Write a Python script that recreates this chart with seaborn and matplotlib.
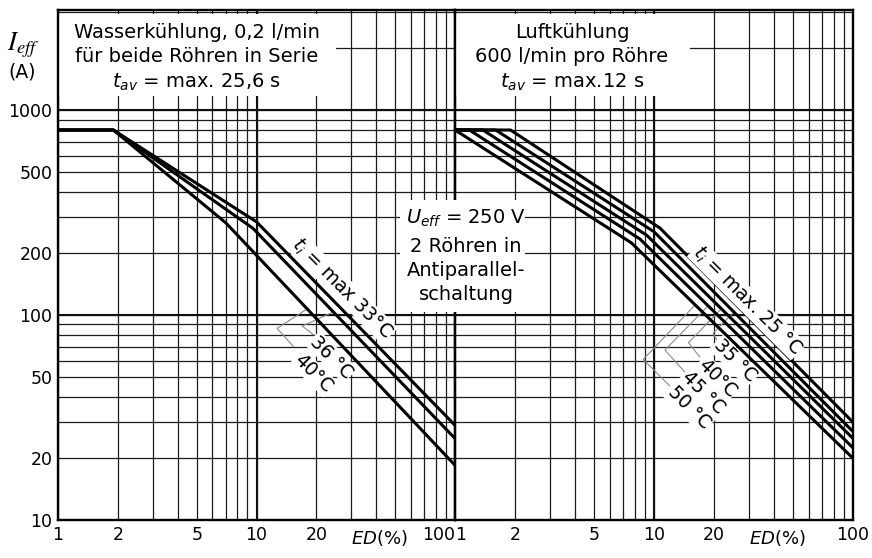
import numpy as np
import pandas as pd
import matplotlib
matplotlib.use('Agg')
import matplotlib.pyplot as plt
import matplotlib.ticker as mticker
from matplotlib.patches import Rectangle
import seaborn as sns

# Wasserkühlung (left panel): ED in %, I_eff in A, one curve per t_i
w33_ed = [1, 1.9, 10, 100]
w33_i = [800, 800, 285, 29]
w36_ed = [1, 1.9, 9.6, 100]
w36_i = [800, 800, 265, 25]
w40_ed = [1, 1.9, 7.0, 100]
w40_i = [800, 800, 282, 18.5]

# Luftkühlung (right panel)
a25_ed = [1, 1.9, 10.7, 100]
a25_i = [800, 800, 266, 30]
a35_ed = [1, 1.6, 10, 100]
a35_i = [800, 800, 255, 27]
a40_ed = [1, 1.38, 9.2, 100]
a40_i = [800, 800, 245, 25]
a45_ed = [1, 1.18, 8.5, 100]
a45_i = [800, 800, 235, 22.5]
a50_ed = [1, 7.7, 100]
a50_i = [800, 225, 20]

x_ticks = [1, 2, 5, 10, 20, 100]
x_labels = ['1', '2', '5', '10', '20', '100']
y_ticks = [10, 20, 50, 100, 200, 500, 1000]
y_labels = ['10', '20', '50', '100', '200', '500', '1000']

water = pd.concat([
    pd.DataFrame({'ED': w33_ed, 'I': w33_i, 'ti': '33'}),
    pd.DataFrame({'ED': w36_ed, 'I': w36_i, 'ti': '36'}),
    pd.DataFrame({'ED': w40_ed, 'I': w40_i, 'ti': '40'}),
])
air = pd.concat([
    pd.DataFrame({'ED': a25_ed, 'I': a25_i, 'ti': '25'}),
    pd.DataFrame({'ED': a35_ed, 'I': a35_i, 'ti': '35'}),
    pd.DataFrame({'ED': a40_ed, 'I': a40_i, 'ti': '40'}),
    pd.DataFrame({'ED': a45_ed, 'I': a45_i, 'ti': '45'}),
    pd.DataFrame({'ED': a50_ed, 'I': a50_i, 'ti': '50'}),
])

sns.set_style('white')
plt.rcParams['font.family'] = ['DejaVu Sans']
plt.rcParams['mathtext.fontset'] = 'dejavusans'
plt.rcParams['text.color'] = 'black'
plt.rcParams['xtick.color'] = 'black'
plt.rcParams['ytick.color'] = 'black'

W, H = 872, 558
fig = plt.figure(figsize=(W / 100, H / 100), dpi=100)
ax1 = fig.add_axes([58 / W, 38 / H, 397 / W, 510 / H])
ax2 = fig.add_axes([455 / W, 38 / H, 398 / W, 510 / H])


def fx(px):
    return px / W


def fy(py):
    return 1 - py / H


def curve_at(ed, cur, x):
    return 10 ** np.interp(np.log10(x), np.log10(ed), np.log10(cur))


for ax in (ax1, ax2):
    ax.set_xscale('log')
    ax.set_yscale('log')
    ax.set_xlim(1, 100)
    ax.set_ylim(10, 3080)
    ax.set_xticks(x_ticks, x_labels)
    ax.set_yticks(y_ticks, y_labels)
    ax.xaxis.set_minor_locator(mticker.LogLocator(subs=np.arange(2, 10)))
    ax.yaxis.set_minor_locator(mticker.LogLocator(subs=np.arange(2, 10)))
    ax.xaxis.set_minor_formatter(mticker.NullFormatter())
    ax.yaxis.set_minor_formatter(mticker.NullFormatter())
    ax.grid(which='both', color='#1c1c1c', lw=0.9)
    ax.axvline(10, color='#111', lw=1.5, zorder=1.6)
    for v in (100, 1000):
        ax.axhline(v, color='#111', lw=1.5, zorder=1.6)
    ax.tick_params(which='both', length=0, labelsize=12.5, pad=4, colors='black')
    for s in ax.spines.values():
        s.set_linewidth(1.7)
        s.set_color('black')

ax2.tick_params(labelleft=False)
ax1.get_xticklabels()[-1].set_ha('right')
ax2.get_xticklabels()[0].set_ha('left')

sns.lineplot(data=water, x='ED', y='I', units='ti', estimator=None, sort=False,
             color='black', lw=2.2, ax=ax1, legend=False, zorder=3)
sns.lineplot(data=air, x='ED', y='I', units='ti', estimator=None, sort=False,
             color='black', lw=2.2, ax=ax2, legend=False, zorder=3)
for ax in (ax1, ax2):
    ax.set_xlabel('')
    ax.set_ylabel('')
    ax.text(0.809, -0.035, r'$ED$(%)', transform=ax.transAxes, ha='center',
            va='center', fontsize=13)

# white boxes behind the headings
ax1.add_patch(Rectangle((0, 0.831), 0.70, 0.161, transform=ax1.transAxes,
                        fc='white', ec='none', zorder=2))
ax2.add_patch(Rectangle((0, 0.831), 0.59, 0.161, transform=ax2.transAxes,
                        fc='white', ec='none', zorder=2))

for txt, py in [('Wasserkühlung, 0,2 l/min', 32), ('für beide Röhren in Serie', 57),
                (r'$t_{av}$ = max. 25,6 s', 82)]:
    fig.text(fx(197), fy(py), txt, ha='center', va='center', fontsize=14, zorder=4)
for txt, py in [('Luftkühlung', 32), ('600 l/min pro Röhre', 57),
                (r'$t_{av}$ = max.12 s', 82)]:
    fig.text(fx(572), fy(py), txt, ha='center', va='center', fontsize=14, zorder=4)

fig.add_artist(Rectangle((fx(400), fy(312)), (525 - 400) / W, (312 - 200) / H,
                         transform=fig.transFigure, fc='white', ec='none', zorder=1))
for txt, py in [(r'$U_{eff}$ = 250 V', 218), ('2 Röhren in', 246),
                ('Antiparallel-', 270), ('schaltung', 294)]:
    fig.text(fx(466), fy(py), txt, ha='center', va='center', fontsize=14, zorder=4)

fig.text(fx(23), fy(45), r'$I_{eff}$', ha='center', va='center', fontsize=19,
         math_fontfamily='stix')
fig.text(fx(22), fy(72), '(A)', ha='center', va='center', fontsize=13.5)

# curve labels
lab_kw = dict(rotation=-45, rotation_mode='anchor', ha='center', va='center',
              fontsize=13.5, zorder=4,
              bbox=dict(boxstyle='square,pad=0.05', fc='white', ec='none'))
ax1.text(27, 135, r'$t_i$ = max 33°C', **lab_kw)
ax1.text(23.9, 62.4, '36 °C', **lab_kw)
ax1.text(19.4, 52.1, '40°C', **lab_kw)
ax2.text(29.3, 118, r'$t_i$ = max. 25 °C', **lab_kw)
ax2.text(25.5, 59.7, '35 °C', **lab_kw)
ax2.text(20.7, 49.3, '40°C', **lab_kw)
ax2.text(17.6, 41.7, '45 °C', **lab_kw)
ax2.text(15.0, 35.2, '50 °C', **lab_kw)

# leader lines: label start -> bend -> point on the curve
lead_kw = dict(color='#8a8a8a', lw=0.8, zorder=2.2)
for ax, start, bend, ed, cur, xc in [
    (ax1, (15.4, 70.0), (12.7, 86.1), w40_ed, w40_i, 18.0),
    (ax1, (19.5, 79.8), (17.0, 88.4), w36_ed, w36_i, 24.4),
    (ax2, (12.0, 45.1), (8.83, 60.8), a50_ed, a50_i, 16.1),
    (ax2, (14.3, 52.7), (11.35, 67.5), a45_ed, a45_i, 18.7),
    (ax2, (17.0, 62.4), (14.9, 73.3), a40_ed, a40_i, 21.8),
    (ax2, (20.7, 75.5), (19.8, 81.5), a35_ed, a35_i, 25.2),
]:
    ax.plot([start[0], bend[0], xc], [start[1], bend[1], curve_at(ed, cur, xc)], **lead_kw)

fig.savefig('out.png', dpi=100, facecolor='white')
